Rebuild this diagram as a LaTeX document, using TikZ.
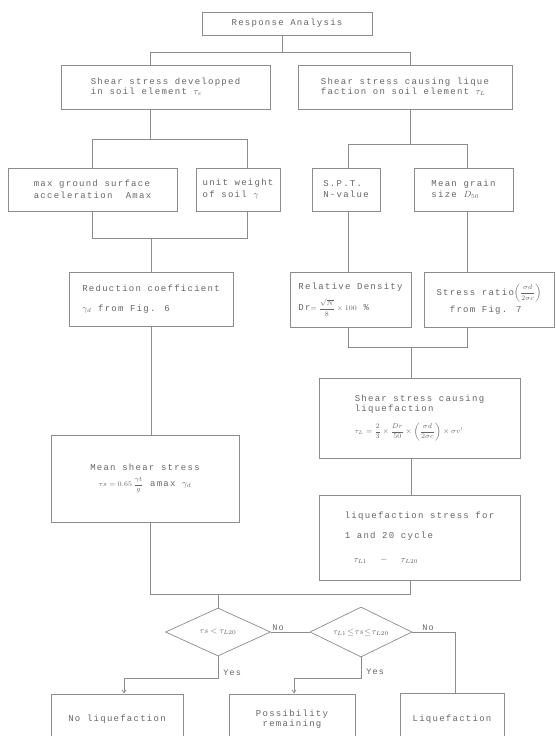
\documentclass[tikz,border=0pt]{standalone}
\usepackage{amsmath}
\usepackage{fontspec}
\setmainfont{Liberation Serif}
\newfontfamily\flowfont[LetterSpace=14]{Liberation Mono}
\usetikzlibrary{shapes.geometric, arrows.meta, positioning, calc}
\definecolor{linegray}{HTML}{8C8C8C}
\definecolor{textgray}{HTML}{666666}
\newcommand{\formsize}{\fontsize{7.5}{9}\selectfont}

\begin{document}
\begin{tikzpicture}[x=1pt, y=1pt,
        box/.style={rectangle, draw=linegray, line width=0.8pt, align=left, text=textgray, inner sep=2pt, font=\flowfont\fontsize{9}{10}\selectfont},
        dec/.style={diamond, aspect=2.2, draw=linegray, line width=0.7pt, inner sep=0pt, text=textgray, font=\fontsize{8.5}{9}\selectfont},
        link/.style={draw=linegray, line width=0.8pt},
        arr/.style={link, -{Straight Barb[length=3pt, width=4pt]}},
        lab/.style={text=textgray, inner sep=1pt, font=\flowfont\fontsize{8.5}{9}\selectfont}
    ]
    \path[fill=white, use as bounding box] (0,0) rectangle (556,-736);

    % Top
    \node[box, minimum width=170pt, minimum height=23pt] (resp) at (287,-23.5) {Response Analysis};
    \node[box, minimum width=209pt, minimum height=44pt] (dev) at (165.5,-87) {Shear stress developped\\in soil element $\tau_s$};
    \node[box, minimum width=214pt, minimum height=44pt] (cause) at (405,-87) {Shear stress causing lique\\faction on soil element $\tau_L$};

    % Left branch
    \node[box, minimum width=169pt, minimum height=43pt] (amax) at (92.5,-189.5) {max ground surface\\[2pt]acceleration \ Amax};
    \node[box, minimum width=84pt, minimum height=43pt] (gamma) at (238,-189.5) {unit weight\\[2pt]of soil $\gamma$};
    \node[box, minimum width=164pt, minimum height=54pt] (red) at (151,-299) {Reduction coefficient\\[10pt]$\gamma_d$ from Fig. 6};
    \node[box, align=center, minimum width=188pt, minimum height=87pt] (mean) at (145,-478.5) {Mean shear stress\\[6pt]{\formsize$\tau s=0.65\,\dfrac{\gamma t}{g}$} amax $\gamma_d$};

    % Right branch
    \node[box, minimum width=68pt, minimum height=43pt] (spt) at (346,-189.5) {S.P.T.\\[1pt]N-value};
    \node[box, minimum width=99pt, minimum height=43pt] (grain) at (463.5,-189.5) {Mean grain\\[1pt]size $D_{50}$};
    \node[box, minimum width=121pt, minimum height=55pt] (dr) at (350.5,-299.5) {Relative Density\\[7pt]Dr{\formsize$=\dfrac{\sqrt{N}}{8}\times100$} \%};
    \node[box, minimum width=130pt, minimum height=55pt] (ratio) at (489,-299.5) {Stress ratio{\formsize$\left(\dfrac{\sigma d}{2\sigma c}\right)$}\\[3pt]\ \ from Fig. 7};
    \node[box, minimum width=201pt, minimum height=80pt] (cliq) at (419.5,-418) {Shear stress causing\\liquefaction\\[8pt]{\formsize$\tau_L=\dfrac{2}{3}\times\dfrac{Dr}{50}\times\left(\dfrac{\sigma d}{2\sigma c}\right)\times\sigma v'$}};
    \node[box, minimum width=201pt, minimum height=85pt] (lstress) at (419.5,-537.5) {liquefaction stress for\\[10pt]1 and 20 cycle\\[14pt]\quad$\tau_{L1}$ \ $-$ \ $\tau_{L20}$};

    % Decisions
    \node[dec, minimum width=105pt, minimum height=48pt] (d1) at (218,-632) {$\tau s<\tau_{L20}$};
    \node[dec, minimum width=102pt, minimum height=50pt] (d2) at (361,-632) {$\tau_{L1}\!\le\!\tau s\!\le\!\tau_{L20}$};

    % Results
    \node[box, align=center, minimum width=132pt, minimum height=51pt] (noliq) at (117,-719.5) {No liquefaction};
    \node[box, align=center, minimum width=126pt, minimum height=51pt] (poss) at (292,-719.5) {Possibility\\remaining};
    \node[box, align=center, minimum width=104pt, minimum height=52pt] (liq) at (452,-719) {Liquefaction};

    % Connections
    \draw[link] ([xshift=-5pt]resp.south) -- ++(0,-17) coordinate (split1);
    \draw[link] ([xshift=-15.5pt]dev.north) |- (split1) -| ([xshift=5pt]cause.north);

    \draw[link] ([xshift=-15.5pt]dev.south) -- ++(0,-30) coordinate (split2);
    \draw[link] ([xshift=-0.5pt]amax.north) |- (split2) -| ([xshift=9pt]gamma.north);
    \draw[link] ([xshift=-0.5pt]amax.south) |- ([yshift=33pt]red.north) -| ([xshift=9pt]gamma.south);
    \draw[link] ([yshift=33pt]red.north) -- (red.north);
    \draw[link] (red.south) -- (red.south |- mean.north);

    \draw[link] ([xshift=5pt]cause.south) -- ++(0,-35) coordinate (split3);
    \draw[link] ([xshift=2pt]spt.north) |- (split3) -| ([xshift=3.5pt]grain.north);
    \draw[link] ([xshift=2pt]spt.south) -- ([xshift=2pt]spt.south |- dr.north);
    \draw[link] ([xshift=3.5pt]grain.south) -- ([xshift=3.5pt]grain.south |- ratio.north);
    \draw[link] ([xshift=-2.5pt]dr.south) |- ([xshift=-8.5pt, yshift=30pt]cliq.north) -| ([xshift=-22pt]ratio.south);
    \draw[link] ([xshift=-8.5pt, yshift=30pt]cliq.north) -- ([xshift=-8.5pt]cliq.north);
    \draw[link] ([xshift=-8.5pt]cliq.south) -- ([xshift=-8.5pt]lstress.north);

    \draw[link] ([xshift=5pt]mean.south) |- ([yshift=13pt]d1.north) -| ([xshift=-9.5pt]lstress.south);
    \draw[link] ([yshift=13pt]d1.north) -- (d1.north);
    \draw[link] (d1.east) -- node[lab, pos=0, above right] {No} (d2.west);
    \draw[link] (d2.east) -| node[lab, pos=0.1, above right] {No} ([xshift=3pt]liq.north);
    \draw[arr] (d1.south) -- node[lab, pos=0.73, right, xshift=4pt] {Yes} ++(0,-22) -| ([xshift=7pt]noliq.north);
    \draw[arr] (d2.south) -- node[lab, pos=0.7, right, xshift=4pt] {Yes} ++(0,-21) -| ([xshift=2pt]poss.north);
\end{tikzpicture}
\end{document}
